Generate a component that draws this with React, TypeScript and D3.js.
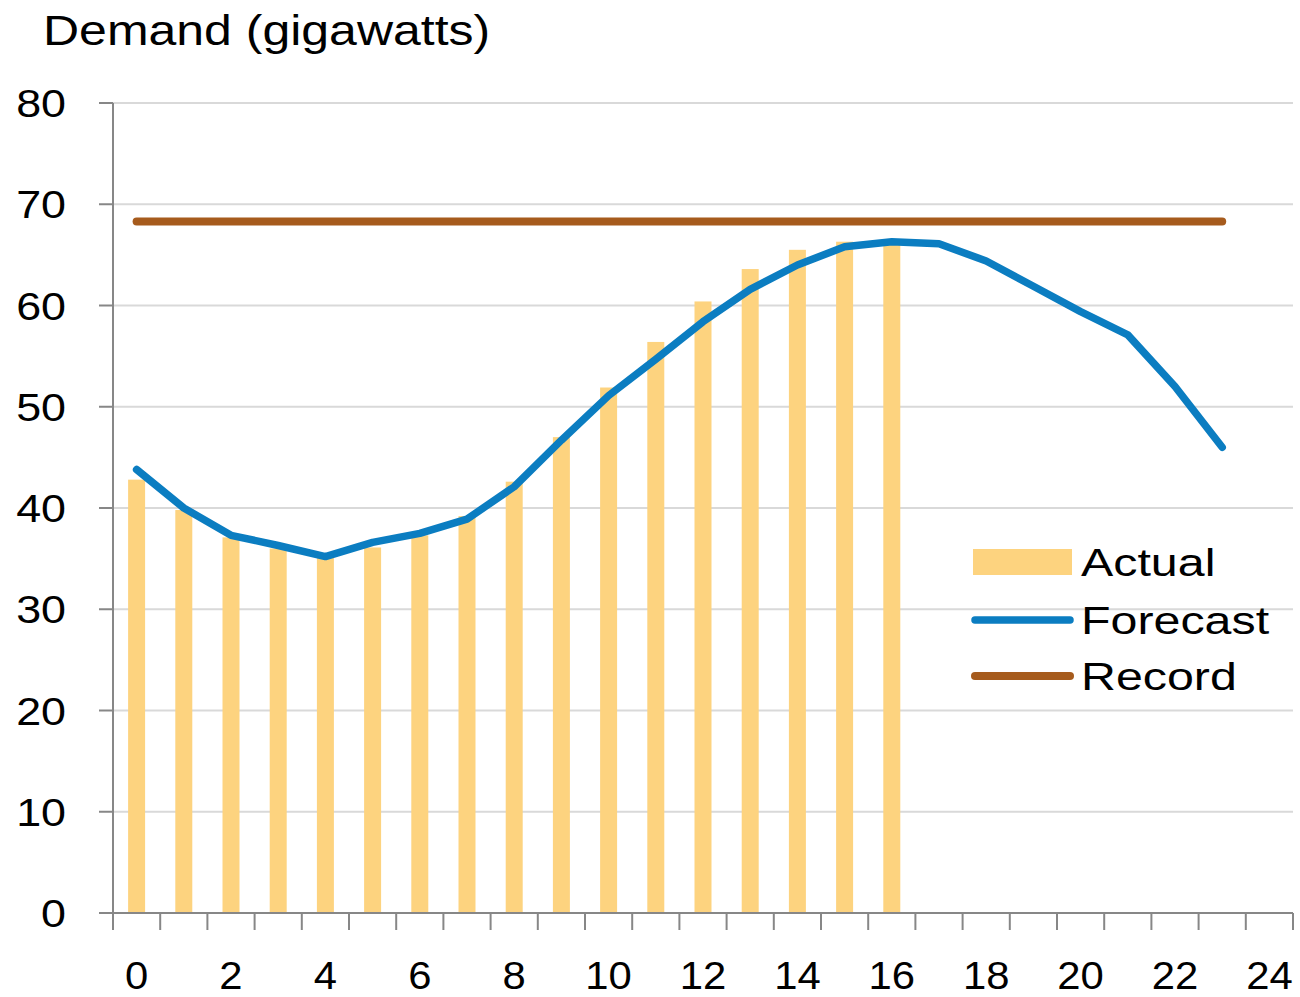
import React from 'react';
import * as d3 from 'd3';

const hours = d3.range(0, 25);
const hourLabels = ['0', '2', '4', '6', '8', '10', '12', '14', '16', '18', '20', '22', '24'];
const actual = [42.8, 39.8, 37.1, 36.0, 35.1, 36.1, 37.3, 39.2, 42.6, 47.0, 51.9, 56.4, 60.4, 63.6, 65.5, 66.3, 66.0];
const forecast = [43.8, 40.0, 37.3, 36.3, 35.2, 36.6, 37.5, 38.9, 42.1, 46.7, 51.1, 54.7, 58.4, 61.6, 64.0, 65.8, 66.3, 66.1, 64.4, 61.9, 59.4, 57.1, 52.0, 46.0];
const record = 68.3;
const recordHours = [0, 23];
const yTicks = [0, 10, 20, 30, 40, 50, 60, 70, 80];
const legendItems = ['Actual', 'Forecast', 'Record'];

const W = 1300;
const H = 997;
const margin = { left: 113, right: 7, top: 103, bottom: 84 };
const FONT = '"Liberation Sans", Arial, sans-serif';

const BAR = '#FDD37F';
const BLUE = '#0B7DC1';
const BROWN = '#A65B1D';
const AXIS = '#878787';
const GRID = '#D9D9D9';

const App = () => {
    const x = d3.scaleBand()
        .domain(hours.map(String))
        .range([margin.left, W - margin.right])
        .paddingInner(0)
        .paddingOuter(0);
    const y = d3.scaleLinear().domain([0, 80]).range([H - margin.bottom, margin.top]);
    const cx = (h) => x(String(h)) + x.bandwidth() / 2;
    const barW = x.bandwidth() * 0.36;

    const line = d3.line()
        .x((d, i) => cx(i))
        .y(d => y(d));
    const recordLine = d3.line()
        .x(h => cx(h))
        .y(() => y(record));

    const x0 = margin.left;
    const x1 = W - margin.right;
    const yBase = y(0);

    // tick marks sit on category boundaries
    const tickXs = hours.map(h => x(String(h))).concat([x1]);

    const legX = 973;
    const legY = [562, 620, 676];

    return (
        <svg width={W} height={H} style={{ position: 'absolute', left: 0, top: 0, background: '#fff' }}>
            <text transform={`translate(43,45) scale(1.19,1)`} fontFamily={FONT} fontSize={42} fill="#000">
                Demand (gigawatts)
            </text>

            {/* gridlines */}
            <g>
                {yTicks.filter(t => t > 0).map(t => (
                    <line key={t} x1={x0} x2={x1} y1={y(t)} y2={y(t)} stroke={GRID} strokeWidth={2} />
                ))}
            </g>

            {/* bars */}
            <g>
                {actual.map((v, i) => (
                    <rect key={i} x={cx(i) - barW / 2} y={y(v)} width={barW} height={yBase - y(v)} fill={BAR} />
                ))}
            </g>

            <path d={recordLine(recordHours)} fill="none" stroke={BROWN} strokeWidth={8} strokeLinecap="round" />
            <path d={line(forecast)} fill="none" stroke={BLUE} strokeWidth={7.5} strokeLinecap="round" strokeLinejoin="round" />

            {/* y axis */}
            <g>
                <line x1={x0} x2={x0} y1={y(80)} y2={yBase} stroke={AXIS} strokeWidth={2} />
                {yTicks.map(t => (
                    <g key={t}>
                        <line x1={x0 - 14} x2={x0} y1={y(t)} y2={y(t)} stroke={AXIS} strokeWidth={2} />
                        <text transform={`translate(66,${y(t)}) scale(1.15,1)`} dy="0.36em" textAnchor="end"
                            fontFamily={FONT} fontSize={39} fill="#000">{t}</text>
                    </g>
                ))}
            </g>

            {/* x axis */}
            <g>
                <line x1={x0} x2={x1} y1={yBase} y2={yBase} stroke={AXIS} strokeWidth={2} />
                {tickXs.map((tx, i) => (
                    <line key={i} x1={tx} x2={tx} y1={yBase} y2={yBase + 17} stroke={AXIS} strokeWidth={2} />
                ))}
                {hourLabels.map(l => (
                    <text key={l} transform={`translate(${cx(+l)},989) scale(1.1,1)`} textAnchor="middle"
                        fontFamily={FONT} fontSize={38} fill="#000">{l}</text>
                ))}
            </g>

            {/* legend */}
            <g>
                <rect x={legX} y={legY[0] - 13} width={99} height={26} fill={BAR} />
                <line x1={legX + 2} x2={legX + 97} y1={legY[1]} y2={legY[1]} stroke={BLUE} strokeWidth={7.5} strokeLinecap="round" />
                <line x1={legX + 2} x2={legX + 97} y1={legY[2]} y2={legY[2]} stroke={BROWN} strokeWidth={8} strokeLinecap="round" />
                {legendItems.map((name, i) => (
                    <text key={name} transform={`translate(1081,${legY[i] + 14}) scale(1.24,1)`}
                        fontFamily={FONT} fontSize={39} fill="#000">{name}</text>
                ))}
            </g>
        </svg>
    );
};

export default App;
